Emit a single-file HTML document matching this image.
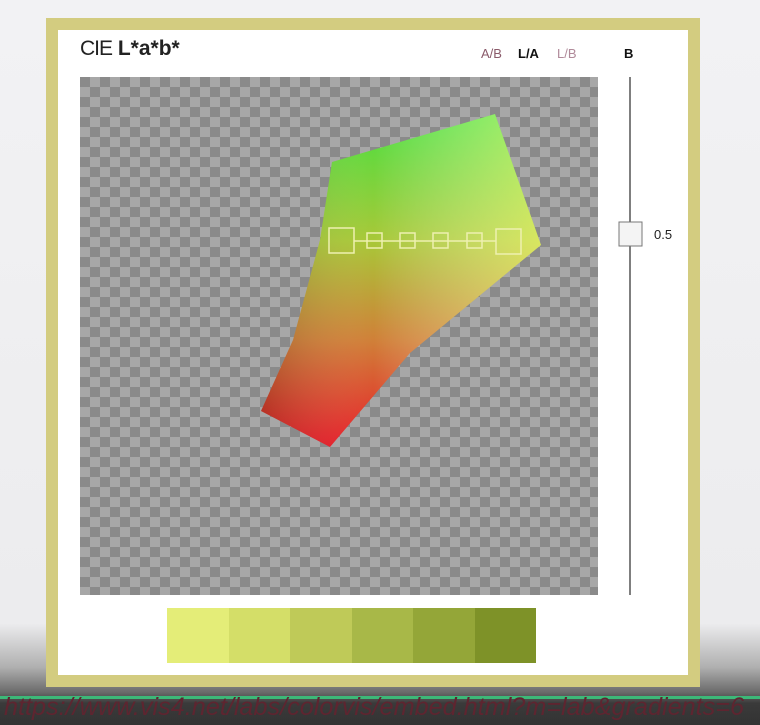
<!DOCTYPE html>
<html><head><meta charset="utf-8"><style>
body{margin:0;width:760px;height:725px;overflow:hidden;position:relative;font-family:"Liberation Sans",sans-serif;background:linear-gradient(#f2f2f4 0%,#ececee 86%,#b0b0b0 92%,#6a6a6a 95.5%,#3a3a3a 97%,#333 100%)}
.frame{position:absolute;left:46px;top:18px;width:630px;height:645px;border:12px solid #d3cc80;background:#fff}
.abs{position:absolute}
</style></head><body>
<div class="frame"></div>
<div class="abs" style="left:80px;top:37px;font-size:21px;color:#222"><span style="font-weight:300;letter-spacing:-1px">CIE</span> <b>L*a*b*</b></div>
<div class="abs" style="left:481px;top:46px;font-size:13px;color:#8a5a6a">A/B</div>
<div class="abs" style="left:518px;top:46px;font-size:13px;font-weight:bold;color:#111">L/A</div>
<div class="abs" style="left:557px;top:46px;font-size:13px;color:#b08a9a">L/B</div>
<div class="abs" style="left:624px;top:46px;font-size:13px;font-weight:bold;color:#111">B</div>
<svg class="abs" style="left:0;top:0" width="760" height="725">
<defs>
<pattern id="ck" x="80" y="77" width="20" height="20" patternUnits="userSpaceOnUse"><rect width="20" height="20" fill="#a7a7a7"/><rect width="10" height="10" fill="#8a8a8a"/><rect x="10" y="10" width="10" height="10" fill="#8a8a8a"/></pattern>
<linearGradient id="gv" x1="0" y1="113" x2="0" y2="447" gradientUnits="userSpaceOnUse">
<stop offset="0" stop-color="#48e040"/><stop offset="0.38" stop-color="#a8c838"/><stop offset="0.68" stop-color="#d08038"/><stop offset="1" stop-color="#e81c28"/></linearGradient>
<linearGradient id="gh" x1="262" y1="0" x2="541" y2="0" gradientUnits="userSpaceOnUse">
<stop offset="0" stop-color="#000" stop-opacity="0.18"/><stop offset="0.4" stop-color="#fff" stop-opacity="0"/><stop offset="1" stop-color="#ffff80" stop-opacity="0.55"/></linearGradient>
</defs>
<rect x="80" y="77" width="518" height="518" fill="url(#ck)"/>
<path d="M332,162 L495,114 L541,245 L507,273 L450,320 L410,353 L330,447 L261,411 L293,340 L320,240 Z" fill="url(#gv)"/>
<path d="M332,162 L495,114 L541,245 L507,273 L450,320 L410,353 L330,447 L261,411 L293,340 L320,240 Z" fill="url(#gh)"/>
<g fill="none" stroke="#eef0b0" stroke-width="1.5">
<line x1="354" y1="241" x2="496" y2="241"/>
<rect x="329" y="228" width="25" height="25"/>
<rect x="367" y="233" width="15" height="15"/><rect x="400" y="233" width="15" height="15"/>
<rect x="433" y="233" width="15" height="15"/><rect x="467" y="233" width="15" height="15"/>
<rect x="496" y="229" width="25" height="25"/>
</g>
<line x1="630" y1="77" x2="630" y2="595" stroke="#555" stroke-width="1.5"/>
<rect x="619" y="222" width="23" height="24" fill="#f4f4f4" stroke="#777"/>
<text x="654" y="239" font-size="13" fill="#222" font-family="Liberation Sans">0.5</text>
</svg>
<div class="abs" style="left:167px;top:608px;width:369px;height:55px;display:flex">
<div style="flex:1;background:#e4ed78"></div><div style="flex:1;background:#d4de68"></div><div style="flex:1;background:#bfca58"></div><div style="flex:1;background:#a8b848"></div><div style="flex:1;background:#94a638"></div><div style="flex:1;background:#7e9228"></div>
</div>
<div class="abs" style="left:0;top:696px;width:760px;height:3px;background:#3cb878"></div>
<svg class="abs" style="left:0;top:685px" width="760" height="40">
<text x="4" y="30" textLength="740" lengthAdjust="spacingAndGlyphs" font-size="25" font-style="italic" fill="#5e2530" font-family="Liberation Sans">https://www.vis4.net/labs/colorvis/embed.html?m=lab&amp;gradients=6</text>
</svg>
</body></html>
